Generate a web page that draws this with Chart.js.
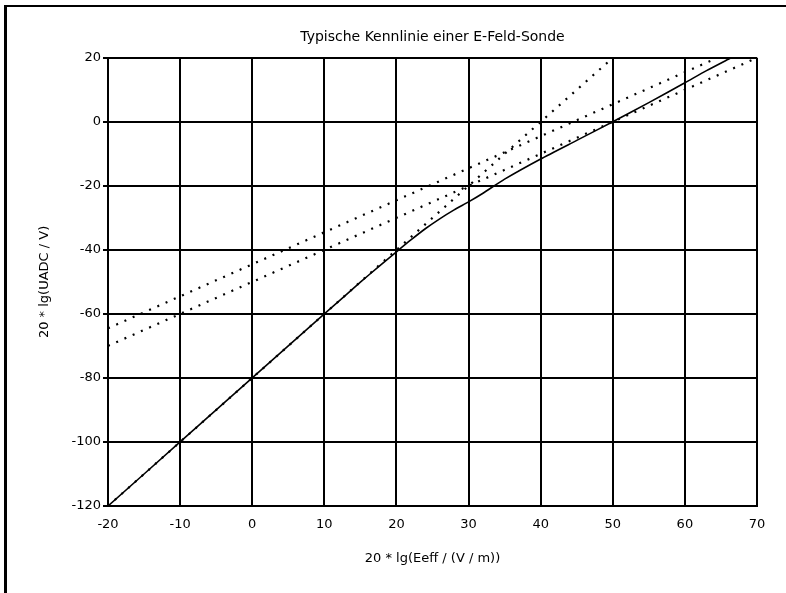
<!DOCTYPE html>
<html>
<head>
<meta charset="utf-8">
<script src="https://cdn.jsdelivr.net/npm/chart.js@4.4.1/dist/chart.umd.min.js"></script>
<style>
  html, body { margin: 0; padding: 0; background: #fff; }
  #wrap { position: relative; width: 786px; height: 593px; }
  #frame { position: absolute; left: 4px; top: 5px; right: 0; bottom: 0;
           border-top: 2px solid #000; border-left: 3px solid #000; pointer-events: none; }
  canvas { position: absolute; left: 0; top: 0; }
</style>
</head>
<body>
<div id="wrap">
  <canvas id="c" width="786" height="593"></canvas>
  <div id="frame"></div>
</div>
<script>
// ---- data ----
const titleText = 'Typische Kennlinie einer E-Feld-Sonde';
const xTitle = '20 * lg(Eeff / (V / m))';
const yTitle = '20 * lg(UADC / V)';
const xTicks = [-20, -10, 0, 10, 20, 30, 40, 50, 60, 70];
const yTicks = [-120, -100, -80, -60, -40, -20, 0, 20];

// measured characteristic (solid)
const solidX = [-20, -10, 0, 10, 15, 17.5, 20, 22, 24, 26, 28, 30, 32, 35, 40, 45, 50, 55, 60, 63, 66.4];
const solidY = [-120, -100, -80, -60, -50.1, -45.3, -40.6, -36.9, -33.4, -30.3, -27.5, -25, -22.3, -17.9, -11.6, -5.8, 0, 6, 12.2, 16, 20];
// square-law asymptote (dotted)
const squareX = [-20, 50];
const squareY = [-120, 20];
// linear asymptote (dotted)
const linX = [-20, 70];
const linY = [-70, 20];
// upper linear line (dotted)
const upX = [-20, 64.5];
const upY = [-64.5, 20];

const pts = (xs, ys) => xs.map((x, i) => ({ x: x, y: ys[i] }));

const dotted = {
  borderColor: '#000', borderWidth: 2.2, borderDash: [2, 7], borderCapStyle: 'butt',
  pointRadius: 0, fill: false, tension: 0
};

const FONT = 'DejaVu Sans';

new Chart(document.getElementById('c'), {
  type: 'scatter',
  data: {
    datasets: [
      { data: pts(solidX, solidY), showLine: true, borderColor: '#000', borderWidth: 1.6,
        pointRadius: 0, fill: false, tension: 0.2 },
      Object.assign({ data: pts(squareX, squareY), showLine: true }, dotted),
      Object.assign({ data: pts(linX, linY), showLine: true }, dotted),
      Object.assign({ data: pts(upX, upY), showLine: true }, dotted)
    ]
  },
  options: {
    responsive: false,
    animation: false,
    devicePixelRatio: 1,
    layout: { padding: { left: 0, right: 29, top: 0, bottom: 0 } },
    plugins: {
      legend: { display: false },
      tooltip: { enabled: false },
      title: {
        display: true, text: titleText, color: '#000', fullSize: false,
        font: { family: FONT, size: 14, weight: 'normal' },
        padding: { top: 29, bottom: 12 }
      }
    },
    scales: {
      x: {
        type: 'linear', min: -20, max: 70,
        afterBuildTicks: s => { s.ticks = xTicks.map(v => ({ value: v })); },
        afterFit: s => { s.height = 87; },
        grid: { color: '#000', lineWidth: 2, drawTicks: false },
        border: { color: '#000', width: 2 },
        ticks: { color: '#000', font: { family: FONT, size: 13 }, padding: 11, maxRotation: 0 },
        title: { display: true, text: xTitle, color: '#000',
                 font: { family: FONT, size: 13 }, padding: { top: 0, bottom: 27 } }
      },
      y: {
        type: 'linear', min: -120, max: 20,
        afterBuildTicks: s => { s.ticks = yTicks.map(v => ({ value: v })); },
        afterFit: s => { s.width = 108; },
        grid: { color: '#000', lineWidth: 2, drawTicks: true, tickLength: 5 },
        border: { color: '#000', width: 2 },
        ticks: { color: '#000', font: { family: FONT, size: 13 }, padding: 2 },
        title: { display: true, text: yTitle, color: '#000',
                 font: { family: FONT, size: 13 }, padding: { top: 37, bottom: 0 } }
      }
    }
  }
});
</script>
</body>
</html>
